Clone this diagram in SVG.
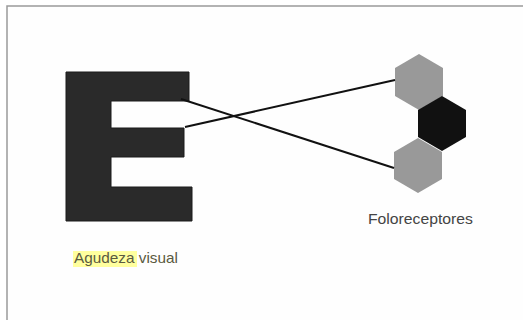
<svg xmlns="http://www.w3.org/2000/svg" width="523" height="320" viewBox="0 0 523 320">
  <style>
    .lbl { font-family: "Liberation Sans", Arial, sans-serif; font-size: 15px; }
    .conn { stroke: #111; stroke-width: 2; fill: none; }
    .gray { fill: #999999; }
    .dark { fill: #111111; }
  </style>
  <rect x="0" y="0" width="523" height="320" fill="#ffffff"/>
  <rect x="7" y="6" width="530" height="330" fill="#fefefe" stroke="#9a9a9a" stroke-width="1.5"/>
  <g id="letter-e">
    <path d="M66,72 H189 V101 H111 V128 H184 V157 H111 V187 H192 V221 H66 Z" fill="#2a2a2a" stroke="#1a1a1a" stroke-width="1"/>
  </g>
  <g id="label-agudeza">
    <rect x="73" y="251" width="64" height="16" fill="#ffff9e"/>
    <text class="lbl" x="74" y="263" fill="#5a5a40" textLength="104" lengthAdjust="spacingAndGlyphs">Agudeza visual</text>
  </g>
  <g id="photoreceptors">
    <polygon class="gray" points="419,54 443,68 443,96 419,110 395,96 395,68"/>
    <polygon class="dark" points="442,96 466,110 466,137 442,151 418,137 418,110"/>
    <polygon class="gray" points="418,138 442,152 442,179 418,193 394,179 394,152"/>
  </g>
  <g id="label-fotoreceptores">
    <text class="lbl" x="368" y="224" fill="#444" textLength="105" lengthAdjust="spacingAndGlyphs">Foloreceptores</text>
  </g>
  <g id="connectors">
    <line class="conn" x1="181" y1="99" x2="394" y2="168"/>
    <line class="conn" x1="185" y1="127" x2="395" y2="80"/>
  </g>
</svg>
